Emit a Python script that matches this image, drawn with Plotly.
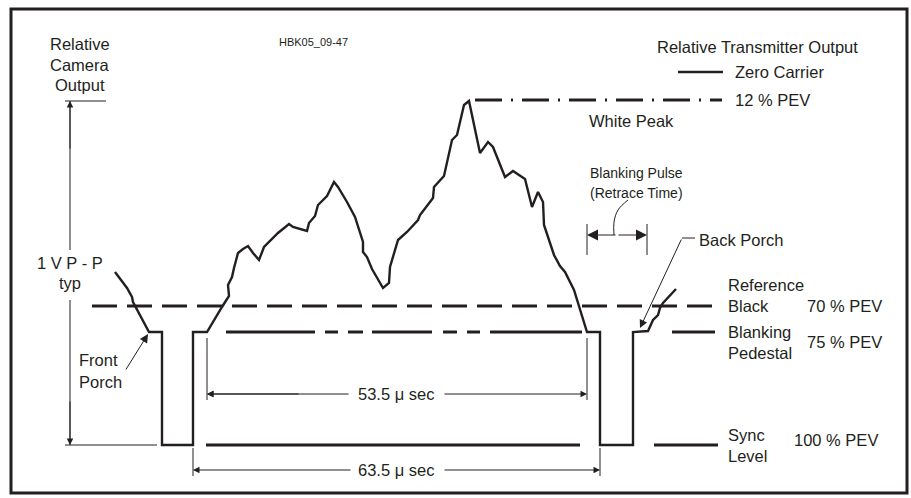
import plotly.graph_objects as go

W, H = 911, 498
INK = "#231f20"
FONT = "Liberation Sans, Arial, sans-serif"

# ---- waveform (horizontal position, drawing level; level axis points down) ----
wave_x = [115, 127, 132, 133, 149, 162, 162, 193, 193, 207, 222, 229, 228, 232, 234, 238, 243, 248,
          253, 259, 264, 270, 278, 289, 293, 307, 309, 315, 318, 327, 334, 338, 347, 355, 363, 363,
          367, 372, 377, 383, 389, 390, 398, 407, 418, 420, 433, 434, 444, 452, 457, 464, 469, 480,
          488, 493, 505, 513, 525, 532, 538, 543, 544, 554, 560, 565, 574, 582, 587, 600, 600, 633,
          633, 648, 653, 658, 660, 663, 670, 676]
wave_y = [272, 288, 297, 302, 332, 332, 445, 445, 332, 332, 307, 296, 285, 277, 268, 253, 249, 246,
          253, 260, 247, 241, 233, 224, 227, 231, 223, 216, 205, 196, 182, 187, 202, 217, 242, 252,
          257, 269, 277, 288, 283, 267, 240, 232, 220, 215, 198, 187, 176, 140, 135, 105, 101, 153,
          142, 147, 177, 171, 179, 207, 192, 202, 225, 255, 266, 272, 290, 317, 332, 332, 445, 445,
          332, 331, 320, 315, 308, 303, 295, 289]

# ---- reference levels ----
level_white_peak = 100
level_zero_carrier = 72
level_ref_black = 306
level_pedestal = 332
level_sync = 445

white_peak_span = [475, 722]
zero_carrier_span = [678, 723]
ref_black_span = [92, 717]
pedestal_segments = [(226, 315), (325, 338), (348, 363), (372, 432), (443, 457), (467, 480),
                     (490, 582), (672, 715)]
sync_segments = [(206, 580), (654, 718)]

# ---- text labels (text, x, y, anchor, size) ----
labels = [
    ("Relative", 80, 44, "center", 16.5), ("Camera", 80, 65, "center", 16.5), ("Output", 80, 85, "center", 16.5),
    ("HBK05_09-47", 313, 42, "center", 11),
    ("Relative Transmitter Output", 757, 47, "center", 16.5),
    ("Zero Carrier", 733, 72, "left", 16.5),
    ("12 % PEV", 733, 100, "left", 16.5),
    ("White Peak", 587, 121, "left", 16.5),
    ("Blanking Pulse", 588, 173, "left", 14),
    ("(Retrace Time)", 588, 193, "left", 14),
    ("Back Porch", 697, 240, "left", 16.5),
    ("1 V P - P", 70, 263, "center", 16.5), ("typ", 70, 283, "center", 16.5),
    ("Reference", 726, 285, "left", 16.5), ("Black", 726, 306, "left", 16.5), ("70 % PEV", 805, 306, "left", 16.5),
    ("Blanking", 726, 332, "left", 16.5), ("Pedestal", 726, 353, "left", 16.5), ("75 % PEV", 805, 342, "left", 16.5),
    ("Sync", 726, 435, "left", 16.5), ("Level", 726, 456, "left", 16.5), ("100 % PEV", 792, 440, "left", 16.5),
    ("Front", 77, 360, "left", 16.5), ("Porch", 77, 382, "left", 16.5),
    ("53.5 μ sec", 396, 394, "center", 16.5),
    ("63.5 μ sec", 396, 470, "center", 16.5),
]


def segs(pairs, y):
    xs, ys = [], []
    for a, b in pairs:
        xs += [a, b, None]
        ys += [y, y, None]
    return xs, ys


fig = go.Figure()

# thin construction lines (extension lines, dimension lines)
thin_x = [65, 106, None, 65, 157, None, 70, 70, None, 70, 70, None,
          207, 207, None, 587, 587, None, 193, 193, None, 600, 600, None,
          587, 587, None, 647, 647, None, 682, 695, None]
thin_y = [101, 101, None, 445, 445, None, 101, 250, None, 300, 445, None,
          338, 400, None, 338, 400, None, 448, 476, None, 448, 476, None,
          224, 255, None, 224, 255, None, 238, 238, None]
fig.add_trace(go.Scatter(x=thin_x, y=thin_y, mode="lines", line=dict(color=INK, width=1),
                         hoverinfo="skip"))

# curved leader for blanking pulse
fig.add_trace(go.Scatter(x=[614, 614, 618, 628], y=[235, 222, 210, 200], mode="lines",
                         line=dict(color=INK, width=1, shape="spline"), hoverinfo="skip"))

# levels
fig.add_trace(go.Scatter(x=white_peak_span, y=[level_white_peak] * 2, mode="lines",
                         line=dict(color=INK, width=3, dash="27px,9px,2px,9px"), hoverinfo="skip"))
fig.add_trace(go.Scatter(x=zero_carrier_span, y=[level_zero_carrier] * 2, mode="lines",
                         line=dict(color=INK, width=2.5), hoverinfo="skip"))
fig.add_trace(go.Scatter(x=ref_black_span, y=[level_ref_black] * 2, mode="lines",
                         line=dict(color=INK, width=3, dash="25px,10px"), hoverinfo="skip"))
px, py = segs(pedestal_segments, level_pedestal)
fig.add_trace(go.Scatter(x=px, y=py, mode="lines", line=dict(color=INK, width=3), hoverinfo="skip"))
sx, sy = segs(sync_segments, level_sync)
fig.add_trace(go.Scatter(x=sx, y=sy, mode="lines", line=dict(color=INK, width=3), hoverinfo="skip"))

# waveform
fig.add_trace(go.Scatter(x=wave_x, y=wave_y, mode="lines", line=dict(color=INK, width=2.4),
                         hoverinfo="skip"))

annotations = []
for t, x, y, anc, sz in labels:
    annotations.append(dict(text=t, x=x, y=y, xref="x", yref="y", xanchor=anc, yanchor="middle",
                            showarrow=False, font=dict(family=FONT, size=sz, color=INK)))

# arrows: (tail x, tail y, head x, head y, size)
arrows = [
    (70, 150, 70, 101, 1.3), (70, 400, 70, 445, 1.3),
    (300, 394, 207, 394, 1.3), (350, 394, 207, 394, 1.3), (443, 394, 587, 394, 1.3),
    (352, 470, 193, 470, 1.3), (443, 470, 600, 470, 1.3),
    (617, 235, 587, 235, 2.2), (617, 235, 647, 235, 2.2),
    (125, 371, 148, 334, 1.7),
    (682, 238, 640, 328, 1.6),
]
for tx, ty, hx, hy, s in arrows:
    annotations.append(dict(text="", x=hx, y=hy, ax=tx, ay=ty, xref="x", yref="y", axref="x",
                            ayref="y", showarrow=True, arrowhead=2, arrowsize=s, arrowwidth=1,
                            arrowcolor=INK))

fig.update_layout(
    width=W, height=H, margin=dict(l=0, r=0, t=0, b=0),
    paper_bgcolor="white", plot_bgcolor="white", showlegend=False,
    xaxis=dict(range=[0, W], visible=False, fixedrange=True),
    yaxis=dict(range=[H, 0], visible=False, fixedrange=True),
    annotations=annotations,
    shapes=[dict(type="rect", xref="x", yref="y", x0=11, x1=907, y0=9, y1=493,
                 line=dict(color=INK, width=3))],
)

fig.write_html("out.html", config={"displayModeBar": False},
               post_script="document.body.style.margin='0';document.body.style.overflow='hidden';")
